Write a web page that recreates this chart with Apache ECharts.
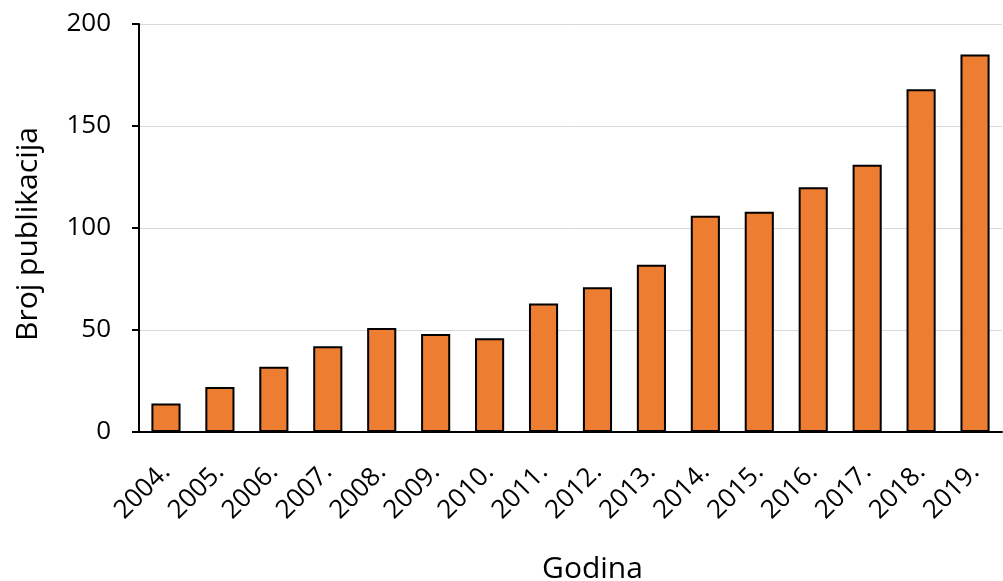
<!DOCTYPE html>
<html><head><meta charset="utf-8">
<script src="https://cdn.jsdelivr.net/npm/echarts@6/dist/echarts.min.js"></script>
<style>html,body{margin:0;padding:0;background:#fff}#c{width:1003px;height:581px}</style>
</head><body><div id="c"></div>
<script>
const categories = ['2004.','2005.','2006.','2007.','2008.','2009.','2010.','2011.','2012.','2013.','2014.','2015.','2016.','2017.','2018.','2019.'];
const values = [14, 22, 32, 42, 51, 48, 46, 63, 71, 82, 106, 108, 120, 131, 168, 185];
const yTicks = [0, 50, 100, 150, 200];
const xTitle = 'Godina';
const yTitle = 'Broj publikacija';

const FONT = '"Open Sans", "Noto Sans", sans-serif';
const chart = echarts.init(document.getElementById('c'));
chart.setOption({
  animation: false,
  grid: {left: 139, right: 1, top: 24, bottom: 149, containLabel: false, outerBoundsMode: 'none'},
  xAxis: {
    type: 'category', data: categories,
    name: xTitle, nameLocation: 'middle', nameGap: 122,
    nameTextStyle: {fontFamily: FONT, fontSize: 30, color: '#000', padding: [0, 0, 0, 44]},
    axisLine: {lineStyle: {color: '#000', width: 2}},
    axisTick: {alignWithLabel: true, length: 7, lineStyle: {color: '#000', width: 2}},
    axisLabel: {rotate: 45, margin: 36, fontFamily: FONT, fontSize: 26, color: '#000'}
  },
  yAxis: {
    type: 'value', min: yTicks[0], max: yTicks[yTicks.length-1], interval: 50,
    name: yTitle, nameLocation: 'middle', nameGap: 96,
    nameTextStyle: {fontFamily: FONT, fontSize: 30, color: '#000', padding: [0, 12, 0, 0]},
    axisLine: {show: true, lineStyle: {color: '#000', width: 2}},
    axisTick: {show: true, length: 7, lineStyle: {color: '#000', width: 2}},
    axisLabel: {margin: 28, fontFamily: FONT, fontSize: 26, color: '#000'},
    splitLine: {lineStyle: {color: '#d9d9d9', width: 1}}
  },
  series: [{
    type: 'bar', data: values, barCategoryGap: '46%',
    itemStyle: {color: '#ED7D31', borderColor: '#000', borderWidth: 2}
  }]
});
</script></body></html>
